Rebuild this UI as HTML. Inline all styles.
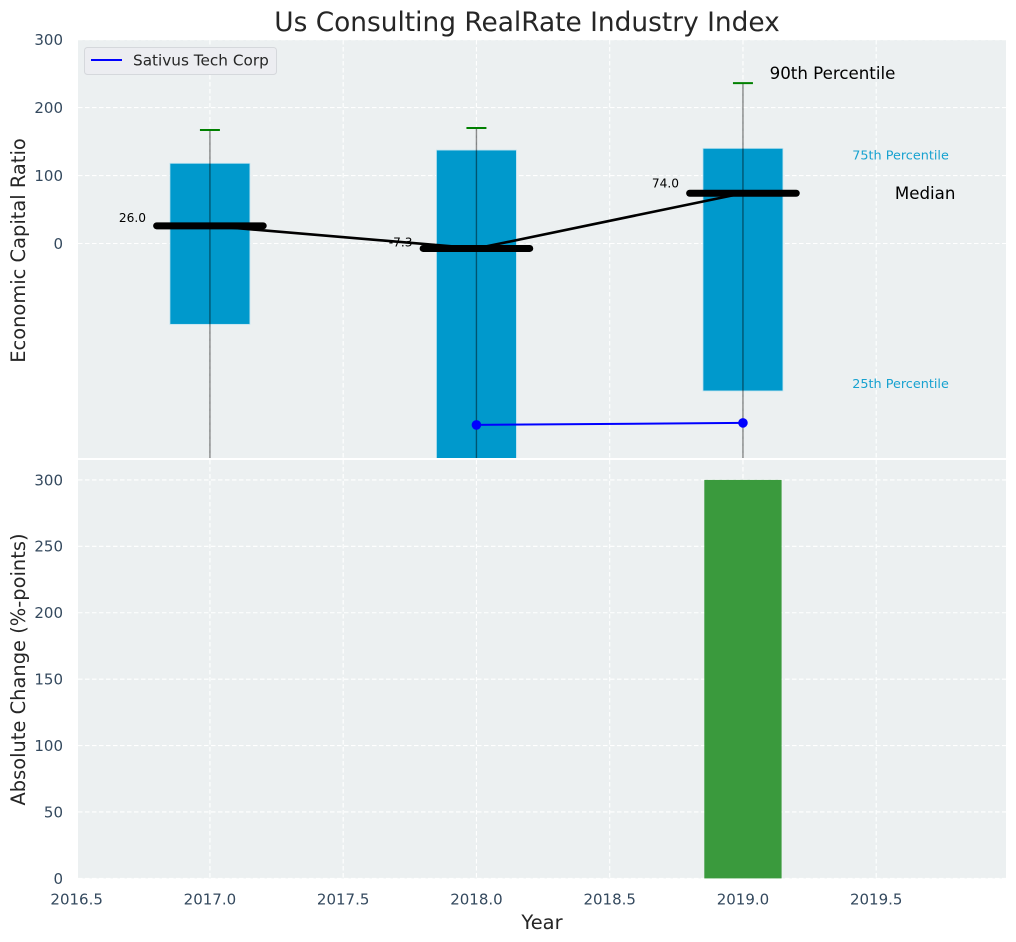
<!DOCTYPE html>
<html>
<head>
<meta charset="utf-8">
<title>Us Consulting RealRate Industry Index</title>
<style>
html,body{margin:0;padding:0;background:#fff;width:1016px;height:942px;overflow:hidden}
svg{display:block}
text{font-family:"DejaVu Sans","Liberation Sans",sans-serif}
</style>
</head>
<body>
<svg id="chart" width="1016" height="942" viewBox="0 0 1016 942" xmlns="http://www.w3.org/2000/svg"></svg>
<script>
const years = [2017, 2018, 2019];
const p90 = [167, 170, 236];
const p75 = [118, 137.5, 140];
const medians = [26, -7.3, 74];
const p25 = [-119, -340, -217];
const p10 = [-400, -400, -400];
const medianLabels = ['26.0', '-7.3', '74.0'];
const companyYears = [2018, 2019];
const companyValues = [-267, -264];
const absoluteChange = [0, 0, 300];
const xTicks = [2016.5, 2017, 2017.5, 2018, 2018.5, 2019, 2019.5];
const xTickLabels = ['2016.5', '2017.0', '2017.5', '2018.0', '2018.5', '2019.0', '2019.5'];
const topYTicks = [0, 100, 200, 300];
const bottomYTicks = [0, 50, 100, 150, 200, 250, 300];

const NS = 'http://www.w3.org/2000/svg';
const svg = document.getElementById('chart');
const L = 78, R = 1006, T1 = 40, B1 = 458, T2 = 460, B2 = 878.4;
const xMin = 2016.505, xMax = 2019.987;
const top0 = 243.5, topScale = 0.6795;
const bot0 = 878.4, botScale = 1.3283;
const x = v => L + (v - xMin) * (R - L) / (xMax - xMin);
const y1 = v => top0 - v * topScale;
const y2 = v => bot0 - v * botScale;
const TICK = '#34495e', INK = '#262626', BOX = '#0099cc', GREEN = '#3a9a3d';

function mk(tag, attrs, parent) {
  const el = document.createElementNS(NS, tag);
  for (const k in attrs) el.setAttribute(k, attrs[k]);
  (parent || svg).appendChild(el);
  return el;
}
function txt(content, attrs, parent) {
  const el = mk('text', attrs, parent);
  el.textContent = content;
  return el;
}

const defs = mk('defs', {});
const clip = mk('clipPath', {id: 'top-clip'}, defs);
mk('rect', {x: L, y: T1, width: R - L, height: B1 - T1}, clip);

// backgrounds
let el = mk('rect', {x: L, y: T1, width: R - L, height: B1 - T1, fill: '#ecf0f1'});


el = mk('rect', {x: L, y: T2, width: R - L, height: B2 - T2, fill: '#ecf0f1'});



const gridStyle = {stroke: '#ffffff', 'stroke-width': 1.1, 'stroke-dasharray': '4.5 2.5', fill: 'none'};

// grids
xTicks.forEach(t => {
  if (x(t) < L) return;
  const a = mk('line', Object.assign({x1: x(t), x2: x(t), y1: T1, y2: B1}, gridStyle));
  
  
  const b = mk('line', Object.assign({x1: x(t), x2: x(t), y1: T2, y2: B2}, gridStyle));
  
  
});
topYTicks.forEach(t => {
  const a = mk('line', Object.assign({x1: L, x2: R, y1: y1(t), y2: y1(t)}, gridStyle));
  
  
});
bottomYTicks.forEach(t => {
  const a = mk('line', Object.assign({x1: L, x2: R, y1: y2(t), y2: y2(t)}, gridStyle));
  
  
});

// top panel marks
const topG = mk('g', {'clip-path': 'url(#top-clip)'});



const boxHalf = 0.15, capHalf = 0.0375, medHalf = 0.2;
years.forEach((yr, i) => {
  const box = mk('rect', {
    x: x(yr - boxHalf), width: x(yr + boxHalf) - x(yr - boxHalf),
    y: y1(p75[i]), height: y1(p25[i]) - y1(p75[i]),
    fill: BOX, stroke: '#bfe3f0', 'stroke-width': 0.8
  }, topG);
  
  
});
years.forEach((yr, i) => {
  const w = mk('line', {
    x1: x(yr), x2: x(yr), y1: y1(p90[i]), y2: y1(p10[i]),
    stroke: '#000', 'stroke-opacity': 0.45, 'stroke-width': 1.4
  }, topG);
  
  
  const c = mk('line', {
    x1: x(yr - capHalf), x2: x(yr + capHalf), y1: y1(p90[i]), y2: y1(p90[i]),
    stroke: '#008000', 'stroke-width': 2
  }, topG);
  
  
});
years.forEach((yr, i) => {
  const t = txt(medianLabels[i], {
    x: x(yr - 0.24), y: y1(medians[i] * 1.07 + 3.6), 'text-anchor': 'end', 'font-size': 12.2, fill: '#000'
  }, topG);
  
  
});
const medLine = mk('polyline', {
  points: years.map((yr, i) => x(yr) + ',' + y1(medians[i])).join(' '),
  fill: 'none', stroke: '#000', 'stroke-width': 2.6
}, topG);


years.forEach((yr, i) => {
  const m = mk('line', {
    x1: x(yr - medHalf), x2: x(yr + medHalf), y1: y1(medians[i]), y2: y1(medians[i]),
    stroke: '#000', 'stroke-width': 7, 'stroke-linecap': 'round'
  }, topG);
  
  
});
const co = mk('polyline', {
  points: companyYears.map((yr, i) => x(yr) + ',' + y1(companyValues[i])).join(' '),
  fill: 'none', stroke: '#0000ff', 'stroke-width': 2
}, topG);


companyYears.forEach((yr, i) => {
  const d = mk('circle', {cx: x(yr), cy: y1(companyValues[i]), r: 4.8, fill: '#0000ff'}, topG);
  
  
});

// percentile annotations (positioned from the final year's values)
const lastI = years.length - 1, lastYear = years[lastI];
let a = txt('90th Percentile', {x: x(lastYear + 0.1), y: y1(p90[lastI]) - 4, 'font-size': 16.67, fill: '#000'});


a = txt('Median', {x: x(lastYear + 0.57), y: y1(medians[lastI]) + 6, 'font-size': 16.67, fill: '#000'});


a = txt('75th Percentile', {x: x(lastYear + 0.41), y: y1(p75[lastI]) + 11, 'font-size': 12.8, fill: BOX, 'fill-opacity': 0.9});


a = txt('25th Percentile', {x: x(lastYear + 0.41), y: y1(p25[lastI]) - 3, 'font-size': 12.8, fill: BOX, 'fill-opacity': 0.9});



// bottom panel bars
years.forEach((yr, i) => {
  const b = mk('rect', {
    x: x(yr - 0.145), width: x(yr + 0.145) - x(yr - 0.145),
    y: y2(absoluteChange[i]), height: y2(0) - y2(absoluteChange[i]),
    fill: GREEN
  });
  
  
});

// tick labels
topYTicks.forEach(t => {
  const e = txt(String(t), {x: 63, y: y1(t) + 5.4, 'text-anchor': 'end', 'font-size': 15, fill: TICK});
  
  
});
bottomYTicks.forEach(t => {
  const e = txt(String(t), {x: 63, y: y2(t) + 5.4, 'text-anchor': 'end', 'font-size': 15, fill: TICK});
  
  
});
xTicks.forEach((t, i) => {
  const e = txt(xTickLabels[i], {x: x(t), y: 904.5, 'text-anchor': 'middle', 'font-size': 15, fill: TICK});
  
  
});

// titles
let tt = txt('Us Consulting RealRate Industry Index', {x: 527, y: 31, 'text-anchor': 'middle', 'font-size': 26.4, fill: INK});


tt = txt('Year', {x: 542, y: 929, 'text-anchor': 'middle', 'font-size': 19.44, fill: INK});


tt = txt('Economic Capital Ratio', {transform: 'translate(25 250.5) rotate(-90)', 'text-anchor': 'middle', 'font-size': 19.44, fill: INK});


tt = txt('Absolute Change (%-points)', {transform: 'translate(25 669.5) rotate(-90)', 'text-anchor': 'middle', 'font-size': 19.44, fill: INK});



// legend
const lg = mk('g', {});


const lb = mk('rect', {x: 84.5, y: 47.5, width: 192, height: 27, rx: 3, fill: '#ecedf1', stroke: '#d5d8dc', 'stroke-width': 1}, lg);


const ll = mk('line', {x1: 91, x2: 122, y1: 60, y2: 60, stroke: '#0000ff', 'stroke-width': 2}, lg);


const lt = txt('Sativus Tech Corp', {x: 133, y: 65.5, 'font-size': 15.28, fill: INK}, lg);


</script>
</body>
</html>
